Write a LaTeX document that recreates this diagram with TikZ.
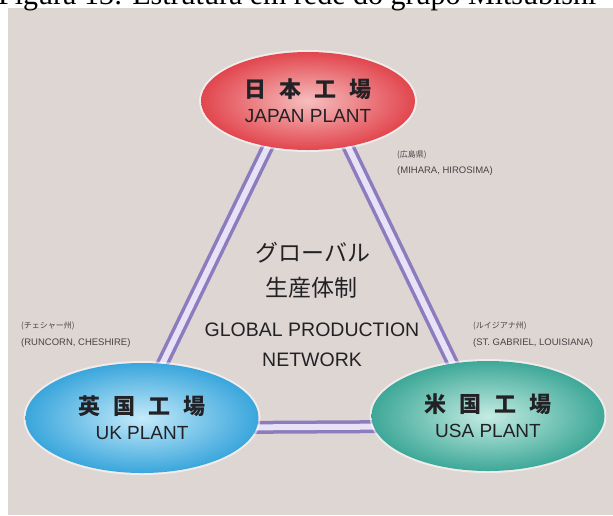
\documentclass[tikz,border=0pt]{standalone}
\usepackage{fontspec}
\setmainfont{Liberation Sans}
\newfontfamily\jpfont{Noto Sans CJK JP}
\newfontfamily\capfont{Liberation Serif}
\usetikzlibrary{shapes.geometric,positioning}

\definecolor{panel}{RGB}{222,214,211}
\definecolor{inktext}{RGB}{34,34,38}
\definecolor{notetext}{RGB}{70,68,72}
\definecolor{tubeedge}{RGB}{140,124,190}
\definecolor{tubeface}{RGB}{232,226,246}
\definecolor{jpin}{RGB}{246,190,190}
\definecolor{jpout}{RGB}{226,70,78}
\definecolor{ukin}{RGB}{196,234,250}
\definecolor{ukout}{RGB}{58,166,220}
\definecolor{usin}{RGB}{196,236,226}
\definecolor{usout}{RGB}{62,168,152}

\pgfdeclarelayer{bg}
\pgfdeclarelayer{tubes}
\pgfsetlayers{bg,tubes,main}

\newcommand{\plantname}[4]{{\jpfont\bfseries\fontsize{22}{24}\selectfont #1\hspace{13pt}#2\hspace{13pt}#3\hspace{13pt}#4}\\[3pt]}

\begin{document}
\begin{tikzpicture}[
            x=1pt, y=-1pt,
            plant/.style={ellipse, inner sep=0pt, minimum width=233pt, minimum height=110pt,
                align=center, text=inktext, font=\fontsize{19}{22}\selectfont,
                preaction={draw=white, line width=4pt, opacity=0.55}},
            tube/.style={draw=tubeedge, line width=3.5pt, double=tubeface, double distance=6pt},
            note/.style={anchor=west, inner sep=0pt, text=notetext, font=\fontsize{9.5}{11}\selectfont},
            jpnote/.style={note, font=\jpfont\fontsize{8}{10}\selectfont},
            centre/.style={inner sep=0pt, text=inktext}
        ]
        \useasboundingbox (0,0) rectangle (613,515);
        \clip (0,0) rectangle (613,515);
        \begin{pgfonlayer}{bg}
        \fill[panel] (8,8) rectangle (613,515);
        \end{pgfonlayer}
        \node[anchor=base west, inner sep=0pt, font=\capfont\fontsize{30}{32}\selectfont] (caption) at (-2,4) {Figura 13: Estrutura em rede do grupo Mitsubishi};

        \node[plant, minimum width=214pt, minimum height=98pt, inner color=jpin, outer color=jpout] (jp) at (308,101) {\plantname{日}{本}{工}{場}JAPAN PLANT};
        \node[plant, inner color=ukin, outer color=ukout] (uk) at (142,418) {\plantname{英}{国}{工}{場}UK PLANT};
        \node[plant, inner color=usin, outer color=usout] (us) at (488,416) {\plantname{米}{国}{工}{場}USA PLANT};

        \begin{pgfonlayer}{tubes}
        \draw[tube] ([xshift=-18pt]jp.center) -- ([xshift=-6pt]uk.center);
        \draw[tube] ([xshift=18pt]jp.center) -- ([xshift=-10pt]us.center);
        \draw[tube] ([yshift=-10pt]uk.center) -- ([yshift=-10pt]us.center);
        \end{pgfonlayer}

        % centre text
        \node[centre, font=\jpfont\fontsize{23}{25}\selectfont] (gl1) at (313,253) {グローバル};
        \node[centre, font=\jpfont\fontsize{23}{25}\selectfont] (gl2) at (311,288) {生産体制};
        \node[centre, font=\fontsize{19.5}{22}\selectfont] (gl3) at (312,330) {GLOBAL PRODUCTION};
        \node[centre, font=\fontsize{19.5}{22}\selectfont] (gl4) at (312,360) {NETWORK};

        % site notes
        \node[jpnote] (jpsite1) at (397,155) {(広島県)};
        \node[note] (jpsite2) at (397,171) {(MIHARA, HIROSIMA)};
        \node[jpnote] (uksite1) at (21,326) {(チェシャー州)};
        \node[note] (uksite2) at (21,343) {(RUNCORN, CHESHIRE)};
        \node[jpnote] (ussite1) at (473,326) {(ルイジアナ州)};
        \node[note] (ussite2) at (473,343) {(ST. GABRIEL, LOUISIANA)};
        \end{tikzpicture}
\end{document}
